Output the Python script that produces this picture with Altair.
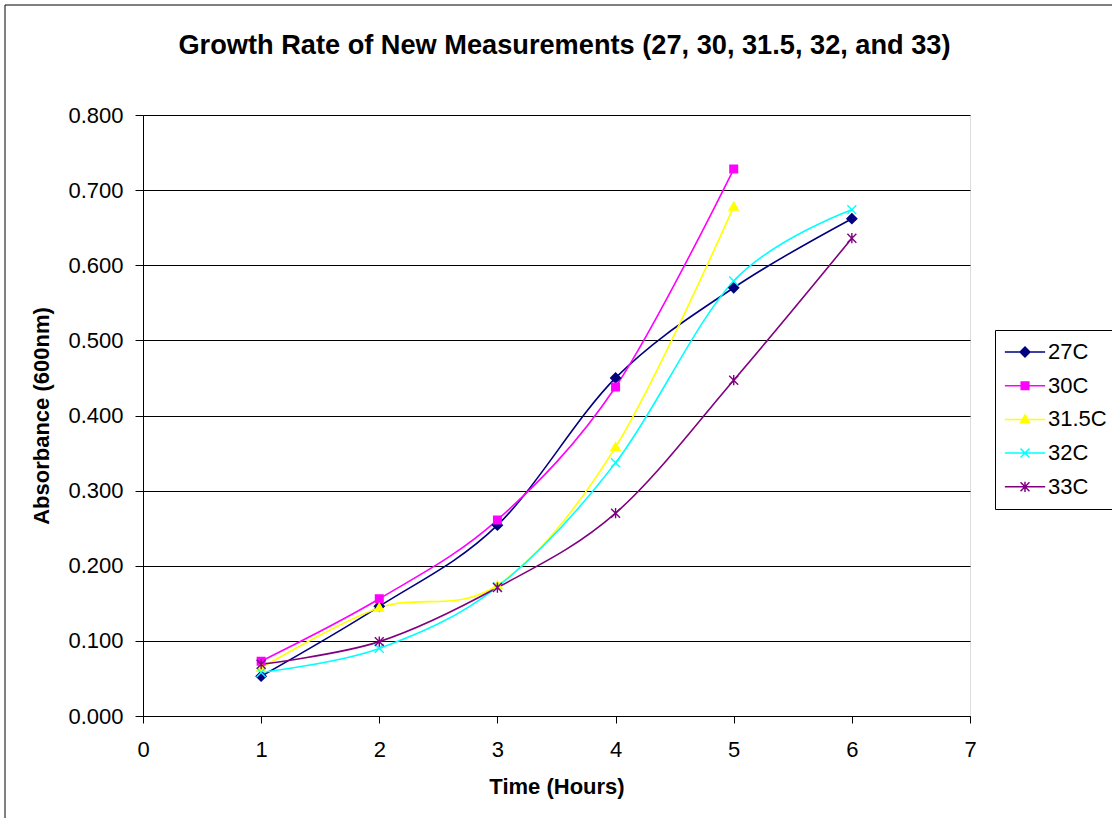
import altair as alt
import pandas as pd

# ---- data ----
series_names = ["27C", "30C", "31.5C", "32C", "33C"]
times_27 = [1, 2, 3, 4, 5, 6]
vals_27 = [0.053, 0.146, 0.254, 0.450, 0.570, 0.662]
times_30 = [1, 2, 3, 4, 5]
vals_30 = [0.073, 0.156, 0.261, 0.438, 0.728]
times_315 = [1, 2, 3, 4, 5]
vals_315 = [0.064, 0.144, 0.174, 0.358, 0.678]
times_32 = [1, 2, 3, 4, 5, 6]
vals_32 = [0.058, 0.090, 0.172, 0.337, 0.579, 0.674]
times_33 = [1, 2, 3, 4, 5, 6]
vals_33 = [0.069, 0.099, 0.171, 0.270, 0.447, 0.636]

x_ticks = [0, 1, 2, 3, 4, 5, 6, 7]
y_ticks = [0.0, 0.1, 0.2, 0.3, 0.4, 0.5, 0.6, 0.7, 0.8]

colors = ["#000080", "#FF00FF", "#FFFF00", "#00FFFF", "#800080"]
marker_paths = [
    "M0,-1.1L1.1,0L0,1.1L-1.1,0Z",
    "M-0.85,-0.85H0.85V0.85H-0.85Z",
    "M0,-1L1,0.75L-1,0.75Z",
    "M-1,-1L1,1M-1,1L1,-1",
    "M-1,-1L1,1M-1,1L1,-1M0,-1.15V1.15",
]
legend_paths = ["M-4.5,0H4.5" + p for p in marker_paths]

rows = []
for name, ts, vs in [("27C", times_27, vals_27), ("30C", times_30, vals_30),
                     ("31.5C", times_315, vals_315), ("32C", times_32, vals_32),
                     ("33C", times_33, vals_33)]:
    for t, v in zip(ts, vs):
        rows.append({"series": name, "time": t, "value": v})
df = pd.DataFrame(rows)

FONT = "Liberation Sans"

x_enc = alt.X("time:Q", scale=alt.Scale(domain=[0, 7], nice=False),
              axis=alt.Axis(values=x_ticks, title="Time (Hours)", grid=False,
                            tickSize=7, labelPadding=16, titlePadding=16,
                            labelFlush=False,
                            labelFontSize=22, titleFontSize=22, labelFont=FONT,
                            titleFont=FONT, titleFontWeight="bold",
                            domainColor="black", tickColor="black",
                            labelColor="black", titleColor="black"))
y_enc = alt.Y("value:Q", scale=alt.Scale(domain=[0, 0.8], nice=False),
              axis=alt.Axis(values=y_ticks, format=".3f", title="Absorbance (600nm)",
                            grid=True, gridColor="black", gridWidth=1,
                            tickSize=8, labelPadding=12, titlePadding=14,
                            labelFlush=False,
                            labelFontSize=22, titleFontSize=22, labelFont=FONT,
                            titleFont=FONT, titleFontWeight="bold",
                            domainColor="black", tickColor="black",
                            labelColor="black", titleColor="black"))

color_scale = alt.Scale(domain=series_names, range=colors)

base = alt.Chart(df)

lines = base.mark_line(interpolate="cardinal", strokeWidth=1.6).encode(
    x=x_enc, y=y_enc,
    stroke=alt.Stroke("series:N", scale=color_scale, legend=None),
    detail="series:N",
)

points = base.mark_point(filled=True, size=80, strokeWidth=1.4, opacity=1).encode(
    x=x_enc, y=y_enc,
    fill=alt.Fill("series:N", scale=color_scale, legend=None),
    stroke=alt.Stroke("series:N", scale=color_scale, legend=None),
    shape=alt.Shape("series:N", scale=alt.Scale(domain=series_names, range=marker_paths), legend=None),
)

legend_def = alt.Legend(orient="none", legendX=852, legendY=215, title=None,
                        labelFontSize=22, labelFont=FONT, labelColor="black",
                        symbolSize=80, symbolStrokeWidth=1.5, symbolOffset=8,
                        labelOffset=12, rowPadding=11.7, padding=11,
                        strokeColor="black", fillColor="white")

legend_layer = base.mark_point(filled=True, size=80, strokeWidth=1.5, opacity=1).encode(
    x=x_enc, y=y_enc,
    fill=alt.Fill("series:N", scale=color_scale, legend=legend_def),
    stroke=alt.Stroke("series:N", scale=color_scale, legend=legend_def),
    shape=alt.Shape("series:N", scale=alt.Scale(domain=series_names, range=legend_paths), legend=legend_def),
).transform_filter("false")

border = alt.Chart(pd.DataFrame({"a": [0]})).mark_rect(
    fill=None, stroke="black", strokeWidth=1
).encode(x=alt.value(-138), x2=alt.value(980), y=alt.value(-110), y2=alt.value(720))

chart = alt.layer(border, lines, points, legend_layer).resolve_scale(
    fill="independent", stroke="independent", shape="independent"
).properties(
    width=827, height=601,
    padding={"left": 143, "top": 115, "right": 142, "bottom": 102},
    autosize=alt.AutoSizeParams(type="none"),
    title=alt.TitleParams("Growth Rate of New Measurements (27, 30, 31.5, 32, and 33)",
                          fontSize=27.2, font=FONT, fontWeight="bold", color="black",
                          anchor="middle", dx=8, offset=-56),
).configure_view(stroke="#808080", strokeWidth=1.5).configure(background="white")

chart.save("out.html", embed_options={"renderer": "svg", "actions": False})
